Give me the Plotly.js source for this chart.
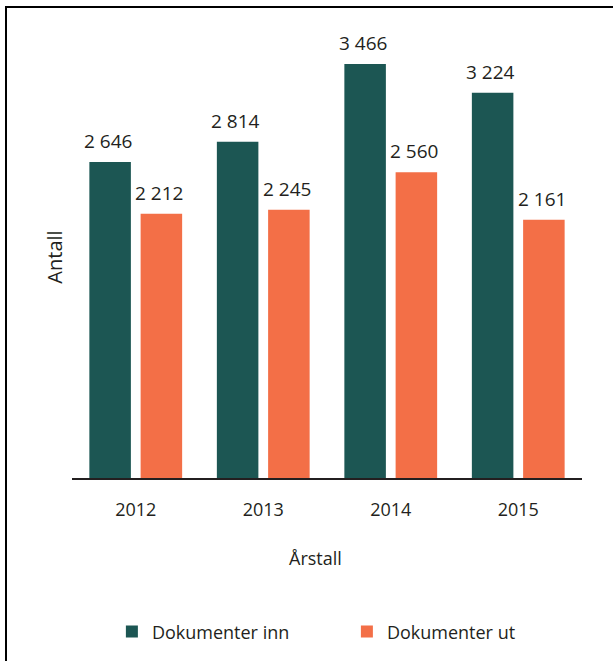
<!DOCTYPE html>
<html>
<head>
<meta charset="utf-8">
<script src="https://cdn.plot.ly/plotly-3.0.1.min.js"></script>
<style>
html,body{margin:0;padding:0;background:#fff;}
#chart{width:613px;height:661px;position:absolute;left:0;top:0;}
#frame{position:absolute;left:5px;top:6px;width:700px;height:700px;border-top:2px solid #000;border-left:2px solid #000;pointer-events:none;}
</style>
</head>
<body>
<div id="chart"></div>
<div id="frame"></div>
<script>
const years = ['2012', '2013', '2014', '2015'];
const dokumenterInn = [2646, 2814, 3466, 3224];
const dokumenterUt = [2212, 2245, 2560, 2161];
const seriesNames = ['Dokumenter inn', 'Dokumenter ut'];
const colors = ['#1c5653', '#f36f47'];

function fmt(v) { return String(v).replace(/\B(?=(\d{3})+(?!\d))/g, ' '); }

const font = 'Open Sans, Noto Sans, sans-serif';
const textColor = '#231f20';
const series = [dokumenterInn, dokumenterUt];
const traces = series.map((vals, i) => ({
  type: 'bar',
  x: years,
  y: vals,
  name: seriesNames[i],
  marker: {color: colors[i]},
  hoverinfo: 'skip'
}));

// value labels above bars (bar slot offset is +-25.6 px from category centre)
const slotShift = [-25.6, 25.6];
const labelAnnotations = [];
series.forEach((vals, i) => {
  vals.forEach((v, j) => {
    labelAnnotations.push({
      x: years[j], y: v, xref: 'x', yref: 'y',
      text: fmt(v), showarrow: false,
      xanchor: 'center', yanchor: 'bottom',
      xshift: slotShift[i] - 2, yshift: 6,
      font: {size: 19, family: font, color: textColor}
    });
  });
});

const layout = {
  width: 613,
  height: 661,
  margin: {l: 72, r: 31, t: 36, b: 183, autoexpand: false},
  paper_bgcolor: '#ffffff',
  plot_bgcolor: '#ffffff',
  barmode: 'group',
  bargap: 0.196,
  bargroupgap: 0.19,
  font: {family: font, color: textColor, size: 18},
  xaxis: {
    showline: true,
    linecolor: textColor,
    linewidth: 1.5,
    ticks: 'outside',
    ticklen: 15,
    tickcolor: 'rgba(0,0,0,0)',
    tickfont: {size: 18, family: font, color: textColor},
    showgrid: false,
    zeroline: false,
    automargin: false
  },
  yaxis: {
    range: [0, 3700],
    showticklabels: false,
    showgrid: false,
    zeroline: false,
    showline: false,
    ticks: '',
    automargin: false,
    title: {text: 'Antall', font: {size: 20, family: font, color: textColor}, standoff: 3}
  },
  annotations: labelAnnotations.concat([{
    text: 'Årstall',
    xref: 'paper', yref: 'paper',
    x: 0.4765, y: -0.18,
    xanchor: 'center', yanchor: 'middle',
    showarrow: false,
    font: {size: 18, family: font, color: textColor}
  }]),
  showlegend: true,
  legend: {
    orientation: 'h',
    x: 0.539,
    xanchor: 'center',
    y: -0.348,
    yanchor: 'middle',
    font: {size: 18, family: font, color: textColor},
    traceorder: 'normal',
    itemwidth: 30,
    entrywidthmode: 'pixels',
    entrywidth: 190
  }
};

Plotly.newPlot('chart', traces, layout, {staticPlot: true, displayModeBar: false});
</script>
</body>
</html>
